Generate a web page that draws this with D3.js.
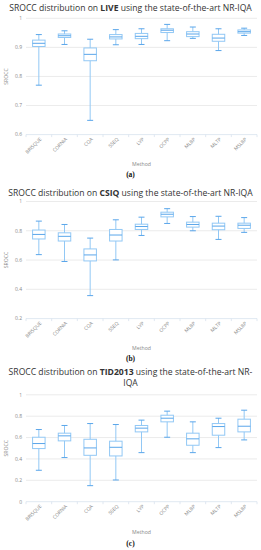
<!DOCTYPE html>
<html>
<head>
<meta charset="utf-8">
<script src="https://cdn.jsdelivr.net/npm/d3@7"></script>
<style>
  body { margin: 0; background: #fff; }
  text { font-family: "Open Sans", sans-serif; }
</style>
</head>
<body>
<svg id="fig" width="261" height="550"></svg>
<script>
(function(){

  //methods on the x axis
  var methods = ["BRISQUE", "CORNIA", "CQA", "SSEQ", "LVP", "OCPP", "MLBP", "MLTP", "MSLBP"];

  //box stats per method: [lower whisker, q1, median, q3, upper whisker]
  var liveStats = [
    [0.770, 0.903, 0.914, 0.925, 0.944],
    [0.910, 0.934, 0.940, 0.946, 0.957],
    [0.649, 0.854, 0.876, 0.898, 0.928],
    [0.909, 0.929, 0.936, 0.944, 0.961],
    [0.910, 0.930, 0.938, 0.948, 0.964],
    [0.923, 0.951, 0.959, 0.964, 0.979],
    [0.931, 0.937, 0.946, 0.954, 0.970],
    [0.889, 0.921, 0.932, 0.945, 0.964],
    [0.941, 0.949, 0.954, 0.960, 0.966]
  ];
  var csiqStats = [
    [0.637, 0.744, 0.775, 0.805, 0.866],
    [0.590, 0.730, 0.762, 0.786, 0.843],
    [0.357, 0.594, 0.635, 0.676, 0.750],
    [0.601, 0.730, 0.771, 0.809, 0.875],
    [0.768, 0.809, 0.829, 0.845, 0.893],
    [0.850, 0.895, 0.913, 0.927, 0.951],
    [0.800, 0.825, 0.843, 0.859, 0.897],
    [0.741, 0.807, 0.832, 0.852, 0.899],
    [0.789, 0.816, 0.838, 0.852, 0.890]
  ];
  var tidStats = [
    [0.294, 0.497, 0.544, 0.603, 0.675],
    [0.413, 0.569, 0.616, 0.641, 0.713],
    [0.150, 0.434, 0.503, 0.584, 0.731],
    [0.203, 0.428, 0.509, 0.566, 0.722],
    [0.459, 0.653, 0.688, 0.713, 0.763],
    [0.603, 0.747, 0.781, 0.809, 0.847],
    [0.459, 0.528, 0.588, 0.641, 0.747],
    [0.506, 0.622, 0.703, 0.731, 0.781],
    [0.578, 0.653, 0.706, 0.772, 0.856]
  ];

  //y tick values
  var liveTicks = [0.6, 0.7, 0.8, 0.9, 1];
  var csiqTicks = [0.2, 0.4, 0.6, 0.8, 1];
  var tidTicks = [0, 0.2, 0.4, 0.6, 0.8, 1];

  //titles (middle part is bold), one inner array per line
  var titles = [
    [["SROCC distribution on ", "LIVE", " using the state-of-the-art NR-IQA"]],
    [["SROCC distribution on ", "CSIQ", " using the state-of-the-art NR-IQA"]],
    [["SROCC distribution on ", "TID2013", " using the state-of-the-art NR-"], ["IQA"]]
  ];
  var letters = ["(a)", "(b)", "(c)"];

  var svg = d3.select("#fig");
  var plotLeft = 26, plotRight = 257;
  var boxColor = "#92c8f5", medianColor = "#5aa6ea";

  //panel layout
  var panels = [
    {stats: liveStats, ticks: liveTicks, domain: [0.6, 1], top: 18.3, bottom: 134.6, titleY: 10.6, methodY: 166, letterY: 177},
    {stats: csiqStats, ticks: csiqTicks, domain: [0.2, 1], top: 201.5, bottom: 318.6, titleY: 195.7, methodY: 350, letterY: 361},
    {stats: tidStats, ticks: tidTicks, domain: [0, 1], top: 394.8, bottom: 501.7, titleY: 374.6, methodY: 533.5, letterY: 545.5}
  ];

  var x = d3.scaleBand()
      .domain(methods)
      .range([plotLeft, plotRight]);

  panels.forEach(function(p, i){
    drawPanel(p, titles[i], letters[i]);
  });

  function drawPanel(p, title, letter){
    var g = svg.append("g");

    var y = d3.scaleLinear()
        .domain(p.domain)
        .range([p.bottom, p.top]);

    //title lines
    title.forEach(function(line, li){
      var t = g.append("text")
          .attr("x", 130.5)
          .attr("y", p.titleY + li * 11.8)
          .attr("text-anchor", "middle")
          .style("font-size", "8.6px")
          .style("fill", "#333");
      line.forEach(function(part, k){
        t.append("tspan")
          .style("font-weight", k == 1 ? "bold" : "normal")
          .text(part);
      });
    });

    //gridlines
    g.selectAll(".grid")
        .data(p.ticks.slice(1))
        .enter()
        .append("line")
        .attr("x1", plotLeft)
        .attr("x2", plotRight)
        .attr("y1", function(d){ return y(d); })
        .attr("y2", function(d){ return y(d); })
        .style("stroke", "#e6e6e6")
        .style("stroke-width", 0.8);

    //y tick labels
    g.selectAll(".ylab")
        .data(p.ticks)
        .enter()
        .append("text")
        .attr("x", 22)
        .attr("y", function(d){ return y(d) + 1.8; })
        .attr("text-anchor", "end")
        .style("font-size", "5px")
        .style("fill", "#888")
        .text(function(d){ return String(+d.toFixed(1)); });

    //x axis line and ticks between categories
    g.append("line")
        .attr("x1", plotLeft).attr("x2", plotRight)
        .attr("y1", p.bottom).attr("y2", p.bottom)
        .style("stroke", "#d8e2ee")
        .style("stroke-width", 0.8);
    var tickPos = methods.map(function(m){ return x(m); }).concat([plotRight]);
    g.selectAll(".xtick")
        .data(tickPos)
        .enter()
        .append("line")
        .attr("x1", function(d){ return d; })
        .attr("x2", function(d){ return d; })
        .attr("y1", p.bottom)
        .attr("y2", p.bottom + 2.5)
        .style("stroke", "#d8e2ee")
        .style("stroke-width", 0.8);

    //x labels rotated
    g.selectAll(".xlab")
        .data(methods)
        .enter()
        .append("text")
        .attr("text-anchor", "end")
        .attr("transform", function(d){
          return "translate(" + (x(d) + x.bandwidth() / 2 + 3) + "," + (p.bottom + 5) + ") rotate(-45)";
        })
        .style("font-size", "4.9px")
        .style("fill", "#888")
        .text(function(d){ return d; });

    //axis titles
    g.append("text")
        .attr("x", (plotLeft + plotRight) / 2)
        .attr("y", p.methodY)
        .attr("text-anchor", "middle")
        .style("font-size", "5.2px")
        .style("fill", "#888")
        .text("Method");
    g.append("text")
        .attr("transform", "translate(8," + ((p.top + p.bottom) / 2) + ") rotate(-90)")
        .attr("text-anchor", "middle")
        .style("font-size", "5.2px")
        .style("fill", "#888")
        .text("SROCC");

    //panel letter
    g.append("text")
        .attr("x", 130.5)
        .attr("y", p.letterY)
        .attr("text-anchor", "middle")
        .style("font-family", "'Liberation Serif', serif")
        .style("font-weight", "bold")
        .style("font-size", "7.5px")
        .style("fill", "#111")
        .text(letter);

    //boxes
    var boxW = 12.5, capW = 6;
    var boxes = g.selectAll(".box")
        .data(p.stats)
        .enter()
        .append("g")
        .attr("transform", function(d, i){
          return "translate(" + (x(methods[i]) + x.bandwidth() / 2) + ",0)";
        });

    //whiskers
    boxes.append("line")
        .attr("x1", 0).attr("x2", 0)
        .attr("y1", function(d){ return y(d[4]); })
        .attr("y2", function(d){ return y(d[0]); })
        .style("stroke", boxColor)
        .style("stroke-width", 1);
    //caps
    [0, 4].forEach(function(k){
      boxes.append("line")
          .attr("x1", -capW / 2).attr("x2", capW / 2)
          .attr("y1", function(d){ return y(d[k]); })
          .attr("y2", function(d){ return y(d[k]); })
          .style("stroke", medianColor)
          .style("stroke-width", 1);
    });
    //box
    boxes.append("rect")
        .attr("x", -boxW / 2)
        .attr("width", boxW)
        .attr("y", function(d){ return y(d[3]); })
        .attr("height", function(d){ return y(d[1]) - y(d[3]); })
        .style("fill", "#fff")
        .style("stroke", boxColor)
        .style("stroke-width", 1);
    //median
    boxes.append("line")
        .attr("x1", -boxW / 2).attr("x2", boxW / 2)
        .attr("y1", function(d){ return y(d[2]); })
        .attr("y2", function(d){ return y(d[2]); })
        .style("stroke", medianColor)
        .style("stroke-width", 1);
  }

})();
</script>
</body>
</html>
